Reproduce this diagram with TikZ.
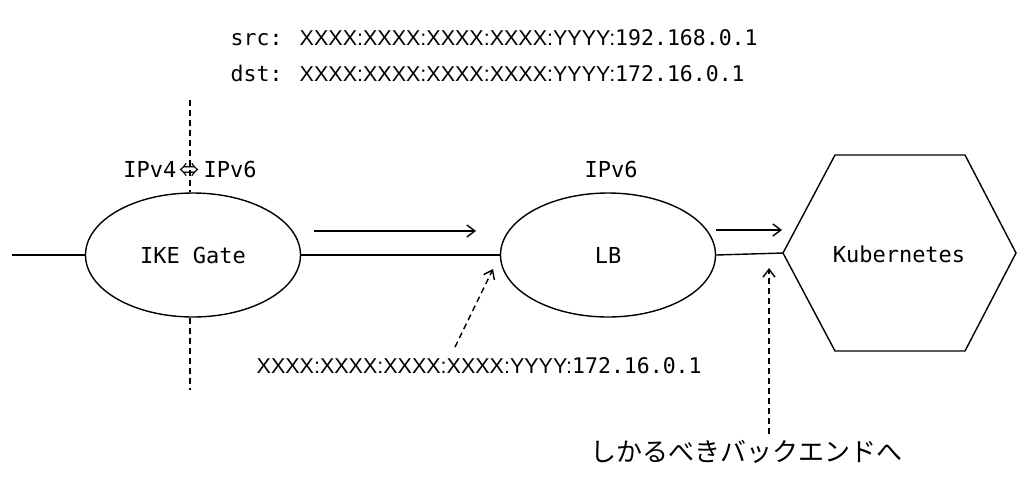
\documentclass[tikz,border=0pt]{standalone}
\usepackage{fontspec}
\setmainfont{DejaVu Sans Mono}
\newfontfamily\xfont{Liberation Sans}
\newfontfamily\jpfont{Noto Sans CJK JP}
\usetikzlibrary{shapes.geometric,arrows.meta}
\newcommand{\xaddr}{{\xfont XXXX:XXXX:XXXX:XXXX:YYYY:}}
\begin{document}
\begin{tikzpicture}[x=1pt,y=-1pt,
  line width=1.4pt,
  tip/.style={-{Straight Barb[length=8pt,width=12pt]}},
  dashln/.style={dash pattern=on 6pt off 4pt},
  oval/.style={draw,ellipse,minimum width=215pt,minimum height=124pt,inner sep=0pt,font=\fontsize{22}{26}\selectfont},
  lbl/.style={inner sep=0pt,font=\fontsize{22}{26}\selectfont},
  addr/.style={inner sep=0pt,anchor=base west,font=\fontsize{21.5}{25}\selectfont},
]
\useasboundingbox (0,0) rectangle (1024,490);

% address labels
\node[addr] (src) at (230,45) {src: \xaddr 192.168.0.1};
\node[addr] (dst) at (230,81) {dst: \xaddr 172.16.0.1};

% nodes
\node[oval] (ike) at (193,255) {IKE Gate};
\node[oval] (lb) at (608,255) {LB};
\coordinate (hl) at (783,253);
\coordinate (htl) at (835,155);
\coordinate (htr) at (965,155);
\coordinate (hr) at (1016,253);
\coordinate (hbr) at (965,351);
\coordinate (hbl) at (835,351);
\draw (hl) -- (htl) -- (htr) -- (hr) -- (hbr) -- (hbl) -- cycle;
\node[inner sep=0pt,font=\fontsize{22}{26}\selectfont] (k8s) at (899,254) {Kubernetes};

% vertical boundary
\coordinate (vt) at (190,100);
\coordinate (vb) at (190,390);
\draw[dashln] (vt) -- (ike.north -| vt);
\draw[dashln] (ike.south -| vb) -- (vb);

% labels above
\node[inner sep=0pt,font=\jpfont\fontsize{20}{24}\selectfont] (conv) at (189,170) {⇔};
\node[lbl,anchor=base east] (v4) at (177,177) {IPv4};
\node[lbl,anchor=base west] (v6) at (203,177) {IPv6};
\node[lbl,anchor=base] (lbv6) at (611,177) {IPv6};

% connections
\coordinate (in) at (12,255);
\draw (in) -- (ike.west);
\draw (ike.east) -- (lb.west);
\draw (lb.east) -- (hl);

% flow arrows
\coordinate (f1s) at (314,231);
\coordinate (f1e) at (476,231);
\coordinate (f2s) at (716,230);
\coordinate (f2e) at (782,230);
\draw[tip] (f1s) -- (f1e);
\draw[tip] (f2s) -- (f2e);

% lower annotations
\node[addr] (lbaddr) at (256,373) {\xaddr 172.16.0.1};
\coordinate (a1) at (455,347);
\coordinate (a2) at (493,269);
\draw[dashln,tip] (a1) -- (a2);

\node[inner sep=0pt,font=\jpfont\fontsize{26}{30}\selectfont] (jp) at (746,452) {しかるべきバックエンドへ};
\coordinate (b1) at (769,434);
\coordinate (b2) at (769,268);
\draw[dashln,tip] (b1) -- (b2);
\end{tikzpicture}
\end{document}
